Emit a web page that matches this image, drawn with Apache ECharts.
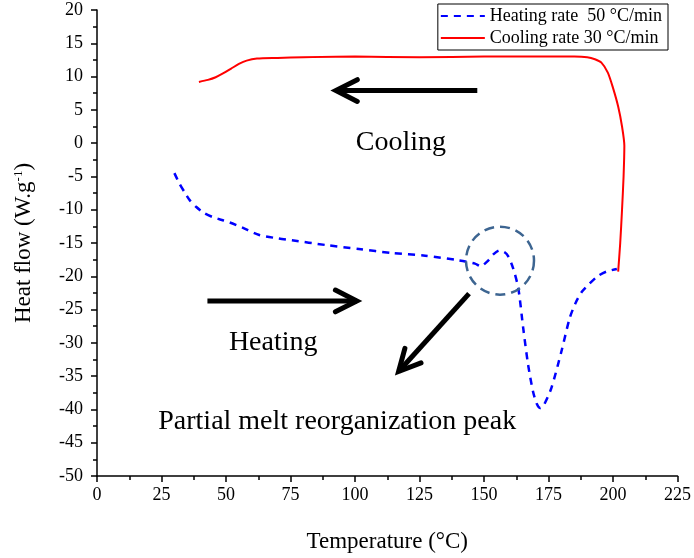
<!DOCTYPE html>
<html><head><meta charset="utf-8">
<script src="https://cdn.jsdelivr.net/npm/echarts@6/dist/echarts.min.js"></script>
<style>html,body{margin:0;padding:0;background:#fff}#c{width:694px;height:558px}</style>
</head><body><div id="c"></div>
<script>
// Heating curve (dashed blue)
const heatT = [30, 32, 34, 36, 38.5, 41.5, 44.8, 48, 51.3, 56.4, 62.9, 70, 75.6, 88.6, 101.5, 114.3, 127.2, 140.1, 146.5, 148.7, 151.7, 153.6, 156, 158, 159.4, 161.3, 163.3, 165.2, 167.1, 169, 170.5, 171.8, 173, 176.1, 180, 183.2, 185.5, 188, 190.9, 194, 197.4, 201.5];
const heatF = [-4.5, -6.1, -7.4, -8.6, -9.6, -10.5, -11.1, -11.5, -11.9, -12.7, -13.8, -14.3, -14.6, -15.3, -15.9, -16.5, -16.9, -17.6, -18.1, -18.5, -17.6, -16.7, -16.1, -16.4, -17.0, -18.8, -21.8, -27.8, -33.3, -37.3, -39.2, -39.8, -39.5, -36.8, -31.3, -26.3, -24.0, -22.3, -21.1, -20.0, -19.3, -18.9];
// Cooling curve (solid red)
const coolT = [39.5, 43, 46, 49, 52, 55, 58, 62, 70, 80, 100, 125, 150, 175, 185, 190, 193, 195.5, 198, 200, 202, 203.5, 204.4, 204.1, 203.5, 202.8, 202];
const coolF = [9.2, 9.5, 9.9, 10.5, 11.2, 11.9, 12.4, 12.7, 12.8, 12.9, 13.0, 12.9, 13.0, 13.0, 13.0, 12.9, 12.6, 12.1, 10.6, 8.3, 5.5, 2.5, -0.4, -5, -10, -15, -19.3];

const seriesNames = ['Heating rate  50 \u00B0C/min', 'Cooling rate 30 \u00B0C/min'];
const xMin = 0, xMax = 225, xStep = 25;
const yMin = -50, yMax = 20, yStep = 5;

// Annotations in data coordinates
const arrows = [
  [[147.4, 7.9], [92.6, 7.9]],
  [[42.8, -23.7], [100.7, -23.7]],
  [[144.2, -22.6], [116.9, -34.3]]
];
const circleCenter = [156.2, -17.65];
const notes = [
  {text: 'Cooling', at: [117.8, 0.1]},
  {text: 'Heating', at: [68.3, -29.9]},
  {text: 'Partial melt reorganization peak', at: [93.1, -41.9]}
];

const FONT = 'Liberation Serif';
const chart = echarts.init(document.getElementById('c'), null, {renderer: 'canvas'});
const zip = (a, b) => a.map((v, i) => [v, b[i]]);

chart.setOption({
  animation: false,
  backgroundColor: '#fff',
  grid: {left: 97, right: 14, top: 10, bottom: 80, containLabel: false},
  legend: {
    orient: 'vertical', right: 26, top: 4,
    itemWidth: 44, itemHeight: 14, itemGap: 4,
    padding: [3, 6, 3, 2],
    borderColor: '#000', borderWidth: 1, borderRadius: 0,
    itemStyle: {color: 'rgba(0,0,0,0)', borderWidth: 0, opacity: 0},
    textStyle: {fontFamily: FONT, fontSize: 18, color: '#000'},
    data: seriesNames
  },
  xAxis: {
    type: 'value', min: xMin, max: xMax, interval: xStep,
    name: 'Temperature (\u00B0C)', nameLocation: 'middle', nameGap: 54,
    nameTextStyle: {fontFamily: FONT, fontSize: 23, color: '#000'},
    axisLine: {show: true, onZero: false, lineStyle: {color: '#000', width: 1.5}},
    axisTick: {show: true, inside: false, length: 6, lineStyle: {color: '#000', width: 1.5}},
    minorTick: {show: true, splitNumber: 2, length: 4, lineStyle: {color: '#000', width: 1.5}},
    axisLabel: {fontFamily: FONT, fontSize: 18, color: '#000', margin: 10},
    splitLine: {show: false}
  },
  yAxis: {
    type: 'value', min: yMin, max: yMax, interval: yStep,
    name: '{n|Heat flow (W.g}{s|-1}{n|)}', nameLocation: 'middle', nameGap: 62, nameRotate: 90,
    nameTextStyle: {
      fontFamily: FONT, fontSize: 23, color: '#000',
      rich: {
        n: {fontFamily: FONT, fontSize: 23, color: '#000'},
        s: {fontFamily: FONT, fontSize: 13, color: '#000', verticalAlign: 'top', padding: [0, 0, 10, 0]}
      }
    },
    axisLine: {show: true, onZero: false, lineStyle: {color: '#000', width: 1.5}},
    axisTick: {show: true, inside: false, length: 6, lineStyle: {color: '#000', width: 1.5}},
    minorTick: {show: true, splitNumber: 2, length: 4, lineStyle: {color: '#000', width: 1.5}},
    axisLabel: {fontFamily: FONT, fontSize: 18, color: '#000', margin: 14},
    splitLine: {show: false}
  },
  series: [
    {
      name: seriesNames[0], type: 'line', data: zip(heatT, heatF),
      showSymbol: false, symbol: 'none', smooth: 0.25,
      lineStyle: {color: '#0000ff', width: 2.5, type: [7, 6]},
      itemStyle: {color: '#0000ff'}
    },
    {
      name: seriesNames[1], type: 'line', data: zip(coolT, coolF),
      showSymbol: false, symbol: 'none', smooth: 0.25,
      lineStyle: {color: '#ff0000', width: 2},
      itemStyle: {color: '#ff0000'}
    }
  ]
});

function px(p) { return chart.convertToPixel({gridIndex: 0}, p); }
const graphics = [];
arrows.forEach(([a, b]) => {
  const A = px(a), B = px(b);
  const ang = Math.atan2(A[1] - B[1], A[0] - B[0]);
  const L = 24, spread = 0.47;
  const h1 = [B[0] + L * Math.cos(ang + spread), B[1] + L * Math.sin(ang + spread)];
  const h2 = [B[0] + L * Math.cos(ang - spread), B[1] + L * Math.sin(ang - spread)];
  graphics.push({type: 'line', shape: {x1: A[0], y1: A[1], x2: B[0], y2: B[1]},
    style: {stroke: '#000', lineWidth: 5, lineCap: 'butt'}, z: 10});
  graphics.push({type: 'polyline', shape: {points: [h1, B, h2]},
    style: {stroke: '#000', lineWidth: 5, lineCap: 'round', lineJoin: 'miter', fill: null}, z: 10});
});
const C = px(circleCenter);
graphics.push({type: 'circle', shape: {cx: C[0], cy: C[1], r: 34},
  style: {stroke: '#3d6591', lineWidth: 2.5, fill: null, lineDash: [10, 6]}, z: 10});
notes.forEach(n => {
  const P = px(n.at);
  graphics.push({type: 'text', x: P[0], y: P[1],
    style: {text: n.text, fontFamily: FONT, fontSize: 28, fill: '#000', align: 'center', verticalAlign: 'middle'}, z: 10});
});
chart.setOption({graphic: graphics});
</script>
</body></html>
